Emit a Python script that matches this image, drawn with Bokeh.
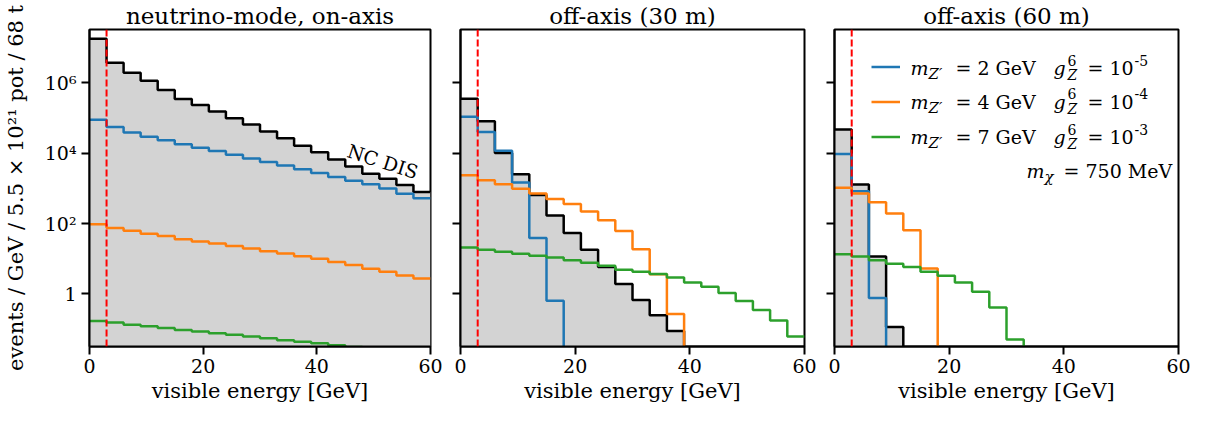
from bokeh.plotting import figure
from bokeh.layouts import row
from bokeh.models import Range1d, FixedTicker, Span, Label, Legend, LegendItem
from bokeh.core.properties import value
from bokeh.embed import file_html
from bokeh.resources import INLINE

# ---------------- data ----------------
bin_edges = [0, 3, 6, 9, 12, 15, 18, 21, 24, 27, 30, 33, 36, 39, 42, 45, 48, 51, 54, 57, 60]

titles = ["neutrino-mode, on-axis", "off-axis (30 m)", "off-axis (60 m)"]

# on-axis
nc_dis_on = [1.76e7, 3.68e6, 1.90e6, 1.14e6, 6.2e5, 3.41e5, 2.33e5, 1.53e5, 9.8e4, 6.5e4,
             4.1e4, 2.63e4, 1.61e4, 1.06e4, 6.6e3, 4.16e3, 2.61e3, 1.86e3, 1.24e3, 7.9e2]
mz2_on = [8.8e4, 5.5e4, 3.86e4, 2.93e4, 2.32e4, 1.79e4, 1.42e4, 1.15e4, 8.9e3, 7.05e3,
          5.6e3, 4.43e3, 3.5e3, 2.72e3, 2.1e3, 1.63e3, 1.30e3, 9.8e2, 7.0e2, 5.2e2]
mz4_on = [95, 74, 62, 51, 44, 36, 31, 27, 23, 19.5,
          16.4, 14.1, 11.7, 9.9, 8.1, 6.6, 5.2, 4.3, 3.35, 2.75]
mz7_on = [0.169, 0.155, 0.133, 0.120, 0.108, 0.095, 0.086, 0.077, 0.069, 0.062,
          0.055, 0.048, 0.044, 0.040, 0.035, 0.031, 0.028, 0.025, 0.022, 0.020]

# off-axis 30 m
nc_dis_30 = [3.5e5, 8.0e4, 1.0e4, 2.5e3, 6.4e2, 1.7e2, 54, 18, 5.8, 1.9,
             0.67, 0.25, 0.089, 0, 0, 0, 0, 0, 0, 0]
mz2_30 = [1.07e5, 4.0e4, 1.16e4, 1.45e3, 39, 0.64, 0, 0, 0, 0,
          0, 0, 0, 0, 0, 0, 0, 0, 0, 0]
mz4_30 = [2.35e3, 1.7e3, 1.3e3, 9.7e2, 7.1e2, 5.0e2, 3.6e2, 2.2e2, 1.24e2, 61,
          18.7, 3.6, 0.27, 0, 0, 0, 0, 0, 0, 0]
mz7_30 = [20.8, 17.9, 15.8, 13.9, 12.2, 10.8, 9.1, 7.7, 6.3, 4.9,
          4.3, 3.7, 2.95, 2.1, 1.6, 1.07, 0.63, 0.35, 0.175, 0.062]

# off-axis 60 m
nc_dis_60 = [4.7e4, 1.28e3, 11.5, 0.115, 0, 0, 0, 0, 0, 0,
             0, 0, 0, 0, 0, 0, 0, 0, 0, 0]
mz2_60 = [9.4e3, 8.3e2, 0.77, 0, 0, 0, 0, 0, 0, 0,
          0, 0, 0, 0, 0, 0, 0, 0, 0, 0]
mz4_60 = [1.03e3, 7.1e2, 4.0e2, 1.94e2, 64, 5.3, 0, 0, 0, 0,
          0, 0, 0, 0, 0, 0, 0, 0, 0, 0]
mz7_60 = [13.3, 11.5, 9.0, 7.2, 5.8, 4.3, 3.3, 2.1, 1.16, 0.41,
          0.051, 0, 0, 0, 0, 0, 0, 0, 0, 0]

panels = [
    (nc_dis_on, mz2_on, mz4_on, mz7_on),
    (nc_dis_30, mz2_30, mz4_30, mz7_30),
    (nc_dis_60, mz2_60, mz4_60, mz7_60),
]

threshold_gev = 3
y_ticks = [1, 100, 10000, 1000000]
y_tick_labels = ["1", "10²", "10⁴", "10⁶"]
x_ticks = [0, 20, 40, 60]
ylabel = "events / GeV / 5.5 × 10²¹ pot / 68 t"
xlabel = "visible energy [GeV]"

# ---------------- style ----------------
FONT = "DejaVu Serif"
INK = "black"
COLORS = ["#1f77b4", "#ff7f0e", "#2ca02c"]
FILL = "#d3d3d3"
FLOOR = 1e-4  # where empty bins are drawn (outside the visible range)

x_range = Range1d(0, 60)
y_range = Range1d(10 ** -1.493, 10 ** 7.51)

TOP, BOTTOM = 29, 61
HEIGHT = 407
FRAME_H = HEIGHT - TOP - BOTTOM
FRAME_W = 344

figs = []
step_renderers = []
for i, (title, series) in enumerate(zip(titles, panels)):
    left = 86 if i == 0 else 15
    right = 14 if i == 2 else 15
    p = figure(width=left + FRAME_W + right, height=HEIGHT,
               min_border_left=left, min_border_right=right,
               min_border_top=TOP, min_border_bottom=BOTTOM,
               x_range=x_range, y_range=y_range, y_axis_type="log",
               output_backend="svg", toolbar_location=None, title=title)
    p.title.align = "center"
    p.title.text_font = FONT
    p.title.text_font_style = "normal"
    p.title.text_font_size = "23px"
    p.title.text_color = INK
    p.title.standoff = 1
    p.grid.visible = False
    p.outline_line_color = "black"
    p.outline_line_width = 2
    p.outline_line_alpha = 1
    p.background_fill_color = "white"
    p.border_fill_color = "white"

    for ax in (p.xaxis[0], p.yaxis[0]):
        ax.axis_line_width = 2
        ax.axis_line_color = INK
        ax.major_tick_line_width = 2
        ax.major_tick_line_color = INK
        ax.major_tick_out = 8
        ax.major_tick_in = 0
        ax.minor_tick_out = 0
        ax.minor_tick_in = 0
        ax.major_label_text_font = FONT
        ax.major_label_text_font_size = "19px"
        ax.major_label_text_color = INK
        ax.axis_label_text_font = FONT
        ax.axis_label_text_font_style = "normal"
        ax.axis_label_text_font_size = "21px"
        ax.axis_label_text_color = INK

    p.xaxis.ticker = FixedTicker(ticks=x_ticks, minor_ticks=[])
    p.xaxis.major_label_standoff = 4
    p.xaxis.axis_label = xlabel
    p.xaxis.axis_label_standoff = 3

    p.yaxis.ticker = FixedTicker(ticks=y_ticks, minor_ticks=[])
    if i == 0:
        p.yaxis.major_label_overrides = dict(zip(y_ticks, y_tick_labels))
        p.yaxis.major_label_standoff = 5
        p.yaxis.axis_label = ylabel
        p.yaxis.axis_label_standoff = 14
    else:
        p.yaxis.major_label_overrides = {t: "" for t in y_ticks}
        p.yaxis.major_label_standoff = 0

    nc, s2, s4, s7 = series
    tops = [v if v > 0 else FLOOR for v in nc]
    p.varea_step(x=bin_edges, y1=[FLOOR] * len(bin_edges), y2=tops + [tops[-1]],
                 step_mode="after", fill_color=FILL)
    p.step(x=bin_edges, y=tops + [tops[-1]], mode="after", line_color="black", line_width=2.5)
    rs = []
    for s, c in zip((s2, s4, s7), COLORS):
        ys = [v if v > 0 else FLOOR for v in s]
        rs.append(p.step(x=bin_edges, y=ys + [ys[-1]], mode="after", line_color=c, line_width=2.5))
    step_renderers.append(rs)

    p.add_layout(Span(location=threshold_gev, dimension="height", line_color="red",
                      line_dash="7 3", line_width=2))
    figs.append(p)

# NC DIS annotation
figs[0].add_layout(Label(x=51.6, y=5.8e3, text="NC DIS", text_font=FONT, text_font_size="19px",
                         text_color=INK, text_align="center", text_baseline="middle",
                         angle=-18, angle_units="deg"))

# legend (panel 3)
p3 = figs[2]
legend = Legend(items=[LegendItem(label=value(" "), renderers=[r]) for r in step_renderers[2]],
                location=(37, FRAME_H - 125), orientation="vertical", glyph_width=29, glyph_height=35,
                label_height=35, label_standoff=0, spacing=0, padding=0, margin=0,
                border_line_alpha=0, background_fill_alpha=0, label_text_font_size="10px")
p3.add_layout(legend)

row_y = [10 ** 6.415, 10 ** 5.455, 10 ** 4.455]
mz_text = ["= 2 GeV", "= 4 GeV", "= 7 GeV"]
g_exp = ["-5", "-4", "-3"]


def lab(p, x, y, text, size="19px", italic=False, dy=0):
    p.add_layout(Label(x=x, y=y, x_units="screen", y_units="data", text=text, y_offset=dy,
                       text_font=FONT, text_font_size=size, text_color=INK,
                       text_font_style="italic" if italic else "normal",
                       text_baseline="middle", text_align="left"))


for yv, mt, ge in zip(row_y, mz_text, g_exp):
    lab(p3, 76, yv, "m", italic=True)
    lab(p3, 94, yv, "Z′", size="15px", italic=True, dy=-6)
    lab(p3, 121, yv, mt)
    lab(p3, 219, yv, "g", italic=True)
    lab(p3, 233, yv, "6", size="14px", dy=8)
    lab(p3, 233, yv, "Z", size="14px", italic=True, dy=-7)
    lab(p3, 253, yv, "= 10")
    lab(p3, 300, yv, ge, size="14px", dy=8)

ychi = 10 ** 3.485
lab(p3, 192, ychi, "m", italic=True)
lab(p3, 210, ychi, "χ", size="15px", italic=True, dy=-6)
lab(p3, 229, ychi, "= 750 MeV")

layout = row(*figs)
open("out.html", "w").write(file_html(layout, INLINE))
